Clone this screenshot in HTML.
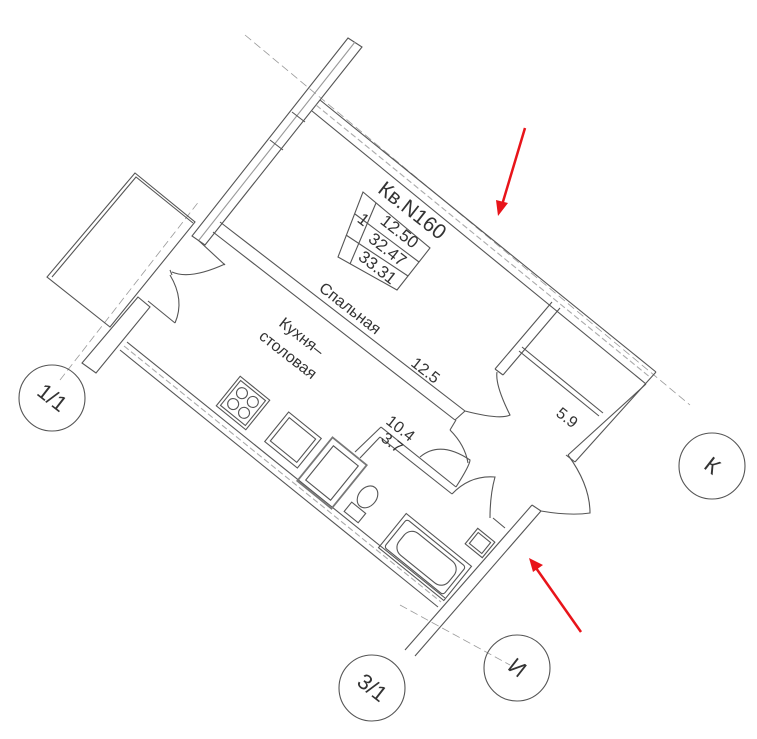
<!DOCTYPE html>
<html><head><meta charset="utf-8"><style>
html,body{margin:0;padding:0;background:#fff}
svg{display:block}
text{font-family:"Liberation Sans","DejaVu Sans",sans-serif;fill:#333}
</style></head><body>
<svg width="757" height="739" viewBox="0 0 757 739" xmlns="http://www.w3.org/2000/svg">
<g fill="none" stroke="#555" stroke-width="1.1">
<g stroke="#999" stroke-dasharray="8 4" stroke-width="0.8">
<line x1="245" y1="35" x2="690" y2="405"/>
<line x1="60" y1="380" x2="200" y2="200"/>
<line x1="400" y1="605" x2="510" y2="665"/>
</g>
<polygon points="348,38 362,47 205,245 192,236"/>
<line x1="355" y1="42" x2="199" y2="240" stroke="#999"/>
<line x1="292" y1="112" x2="305" y2="122"/>
<line x1="270" y1="140" x2="283" y2="150"/>
<line x1="320" y1="100" x2="656" y2="372"/>
<line x1="312" y1="111" x2="646" y2="384"/>
<line x1="316" y1="105" x2="651" y2="378" stroke="#aaa" stroke-dasharray="6 3"/>
<line x1="656" y1="372" x2="575" y2="462"/>
<line x1="646" y1="384" x2="568" y2="455"/>
<line x1="575" y1="462" x2="566" y2="455"/>
<line x1="552" y1="302" x2="495" y2="369"/>
<line x1="560" y1="308" x2="503" y2="375"/>
<line x1="495" y1="369" x2="503" y2="375"/>
<line x1="522" y1="347" x2="603" y2="413"/>
<line x1="519" y1="351" x2="599" y2="416"/>
<line x1="220" y1="222" x2="465" y2="411"/>
<line x1="213" y1="232" x2="455" y2="420"/>
<line x1="465" y1="411" x2="455" y2="420"/>
<path d="M465,411 Q500,420 510,415 Q495,385 497,372"/>
<polygon points="135,173 195,222 110,327 47,277"/>
<polyline points="52,277 136,177 193,223"/>
<polygon points="138,297 150,307 96,373 82,363"/>
<line x1="198" y1="240" x2="225" y2="265"/>
<line x1="170" y1="270" x2="172" y2="275"/>
<path d="M172,272 Q190,280 225,264"/>
<line x1="148" y1="301" x2="175" y2="323"/>
<path d="M170,275 Q185,300 175,323"/>
<line x1="127" y1="342" x2="445" y2="598"/>
<line x1="120" y1="350" x2="438" y2="607"/>
<line x1="124" y1="346" x2="441" y2="602" stroke="#aaa" stroke-dasharray="6 3"/>
<line x1="532" y1="505" x2="405" y2="650"/>
<line x1="541" y1="511" x2="415" y2="656"/>
<line x1="532" y1="505" x2="541" y2="511"/>
<path d="M541,511 Q570,516 590,513 Q590,485 568,455"/>
<line x1="381" y1="427" x2="456" y2="487"/>
<line x1="380" y1="437" x2="452" y2="494"/>
<line x1="381" y1="427" x2="355" y2="452"/>
<line x1="380" y1="437" x2="360" y2="458"/>
<path d="M452,494 Q470,475 495,477 Q490,495 490,518"/>
<line x1="493" y1="518" x2="505" y2="528"/>
<path d="M456,487 Q470,465 470,460 Q440,440 420,457"/>
<line x1="456" y1="420" x2="450" y2="430"/>
<path d="M450,430 Q465,445 468,463"/>
<g transform="translate(425,557) rotate(39)">
<rect x="-42" y="-22" width="84" height="44"/>
<rect x="-38" y="-18" width="76" height="36" rx="3"/>
<rect x="-30" y="-14" width="64" height="28" rx="10"/>
</g>
<g transform="translate(480,543) rotate(39)"><rect x="-11" y="-10" width="22" height="20"/><rect x="-8" y="-7" width="16" height="14"/></g>
<g transform="translate(365,500) rotate(39)"><rect x="-9" y="10" width="18" height="12"/><ellipse cx="0" cy="-4" rx="9" ry="12"/></g>
<g transform="translate(243,403) rotate(39)"><rect x="-19" y="-19" width="38" height="38"/><rect x="-16" y="-16" width="32" height="32"/>
<circle cx="-7" cy="-7" r="5.5"/><circle cx="7" cy="-7" r="5.5"/><circle cx="-7" cy="7" r="5.5"/><circle cx="7" cy="7" r="5.5"/></g>
<g transform="translate(293,440) rotate(39)"><rect x="-21" y="-19" width="42" height="38"/><rect x="-17" y="-15" width="34" height="30"/></g>
<g transform="translate(332,473) rotate(39)"><rect x="-22" y="-28" width="44" height="56" stroke-width="1.8" stroke="#777"/><rect x="-16" y="-22" width="32" height="44"/></g>
<circle cx="52" cy="398" r="33"/>
<circle cx="712" cy="466" r="33"/>
<circle cx="372" cy="688" r="33"/>
<circle cx="517" cy="668" r="33"/>
<!-- label box -->
<polygon points="363,192 430,248 397,290 338,257"/>
<line x1="355" y1="214" x2="419" y2="262"/>
<line x1="346" y1="235" x2="408" y2="276"/>
<line x1="376" y1="203" x2="350" y2="264"/>
</g>
<g font-size="16">
<text transform="translate(408,216) rotate(38)" font-size="21" text-anchor="middle">Кв.N160</text>
<text transform="translate(360,224) rotate(38)" font-size="17" text-anchor="middle">1</text>
<text transform="translate(396,236) rotate(38)" font-size="17" text-anchor="middle">12.50</text>
<text transform="translate(384,254) rotate(38)" font-size="17" text-anchor="middle">32.47</text>
<text transform="translate(374,272) rotate(38)" font-size="17" text-anchor="middle">33.31</text>
<text transform="translate(318,290) rotate(38)">Спальная</text>
<text transform="translate(410,365) rotate(38)">12.5</text>
<text transform="translate(278,325) rotate(38)">Кухня–</text>
<text transform="translate(258,338) rotate(38)">столовая</text>
<text transform="translate(385,423) rotate(38)">10.4</text>
<text transform="translate(380,440) rotate(38)">3.7</text>
<text transform="translate(555,415) rotate(38)">5.9</text>
<text x="52" y="405" text-anchor="middle" font-size="22" transform="rotate(38 52 398)">1/1</text>
<text x="372" y="695" text-anchor="middle" font-size="22" transform="rotate(38 372 688)">3/1</text>
<text x="712" y="473" text-anchor="middle" font-size="22" transform="rotate(38 712 466)">К</text>
<text x="517" y="675" text-anchor="middle" font-size="22" transform="rotate(38 517 668)">И</text>
</g>
<g stroke="#e8141a" stroke-width="2.5" fill="#e8141a">
<line x1="525" y1="128" x2="502" y2="205"/>
<polygon points="498,216 496,200 508,203" stroke="none"/>
<line x1="581" y1="632" x2="536" y2="568"/>
<polygon points="529,558 543,565 533,572" stroke="none"/>
</g>
</svg>
</body></html>
